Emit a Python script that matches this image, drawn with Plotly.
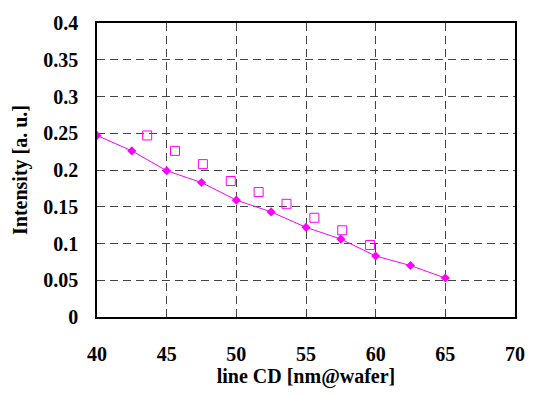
import plotly.graph_objects as go

# Measured intensity vs line CD (filled diamonds, joined)
cd_measured = [40, 42.5, 45, 47.5, 50, 52.5, 55, 57.5, 60, 62.5, 65]
intensity_measured = [0.247, 0.226, 0.199, 0.183, 0.159, 0.143, 0.122, 0.106, 0.083, 0.070, 0.053]

# Second series (open squares)
cd_open = [43.6, 45.6, 47.6, 49.6, 51.6, 53.6, 55.6, 57.6, 59.6]
intensity_open = [0.247, 0.226, 0.208, 0.185, 0.170, 0.154, 0.135, 0.118, 0.098]

x_ticks = [40, 45, 50, 55, 60, 65, 70]
y_ticks = [0, 0.05, 0.1, 0.15, 0.2, 0.25, 0.3, 0.35, 0.4]
y_tick_text = ["0", "0.05", "0.1", "0.15", "0.2", "0.25", "0.3", "0.35", "0.4"]

MAGENTA = "#FF00FF"
FONT = "Times New Roman"

fig = go.Figure()
fig.add_trace(go.Scatter(
    x=cd_measured, y=intensity_measured, mode="lines+markers",
    line=dict(color=MAGENTA, width=1),
    marker=dict(symbol="diamond", size=7, color=MAGENTA),
    showlegend=False,
))
fig.add_trace(go.Scatter(
    x=cd_open, y=intensity_open, mode="markers",
    marker=dict(symbol="square-open", size=9, color=MAGENTA, line=dict(width=1)),
    showlegend=False,
))

axis_common = dict(
    showline=True, linecolor="black", linewidth=1.5, mirror=True,
    showgrid=True, gridcolor="#444444", gridwidth=1, griddash="8px,5px",
    zeroline=False, ticks="",
    tickfont=dict(family=FONT, size=20, color="black"),
)

fig.update_layout(
    width=537, height=395,
    margin=dict(l=97, r=20, t=13, b=77),
    paper_bgcolor="white", plot_bgcolor="white",
    font=dict(family=FONT, color="black"),
    xaxis=dict(
        range=[40, 70], tickvals=x_ticks,
        ticktext=[f"<b>{v}</b>" for v in x_ticks],
        ticklabelstandoff=18,
        title=dict(text="<b>line CD [nm@wafer]</b>", font=dict(family=FONT, size=20), standoff=4),
        **axis_common,
    ),
    yaxis=dict(
        range=[0, 0.4], tickvals=y_ticks,
        ticktext=[f"<b>{t}</b>" for t in y_tick_text],
        ticklabelstandoff=13,
        title=dict(text="<b>Intensity [a. u.]</b>", font=dict(family=FONT, size=20), standoff=10),
        **axis_common,
    ),
)

fig.write_html("out.html")
